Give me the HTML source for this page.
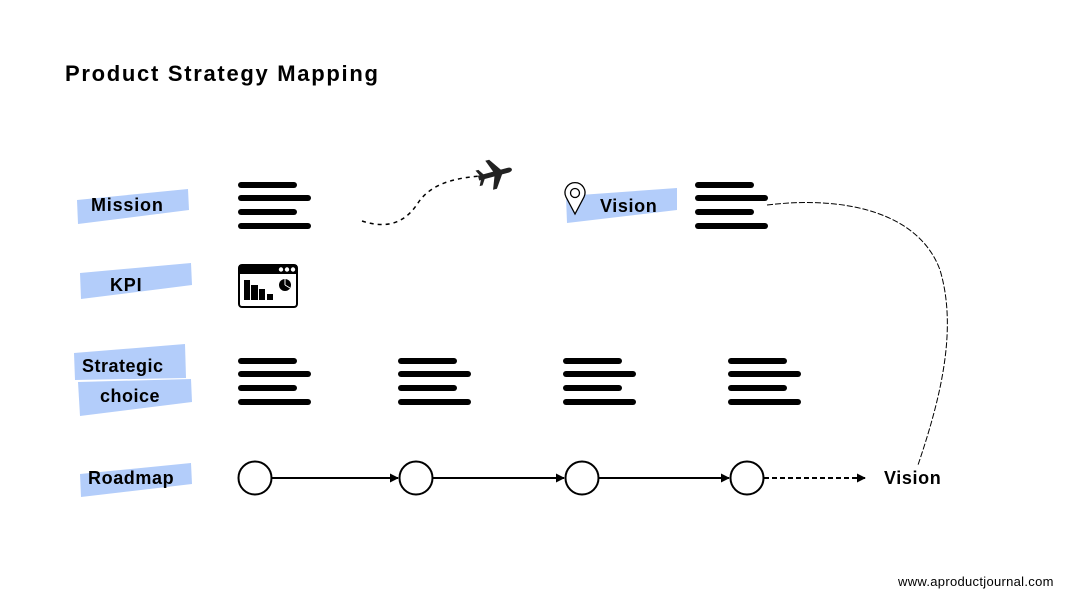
<!DOCTYPE html>
<html><head><meta charset="utf-8"><style>
html,body{margin:0;padding:0;background:#fff;}
svg{display:block}
text{font-family:"Liberation Sans",sans-serif;font-weight:bold;fill:#000}
</style></head><body>
<svg width="1080" height="600" viewBox="0 0 1080 600" xmlns="http://www.w3.org/2000/svg">
<defs>
<marker id="ah" viewBox="0 0 10 10" refX="9" refY="5" markerWidth="4.5" markerHeight="4.5" orient="auto"><path d="M0,0 L10,5 L0,10 z" fill="#000"/></marker>
</defs>
<text x="65" y="81" font-size="22" letter-spacing="1.7">Product Strategy Mapping</text>

<g fill="#b3cdfa">
<polygon points="77,200 188,189 189,210 78,224"/>
<polygon points="80,273 191,263 192,285 81,299"/>
<polygon points="74,353 185,344 186,378 75,380"/>
<polygon points="78,382 191,379 192,402 80,416"/>
<polygon points="80,474 191,463 192,484 81,497"/>
<polygon points="566,196 677,188 677,210 567,223"/>
</g>
<text x="91" y="211" font-size="18" letter-spacing="0.8">Mission</text>
<text x="110" y="291" font-size="18" letter-spacing="0.8">KPI</text>
<text x="82" y="372" font-size="18" letter-spacing="0.5">Strategic</text>
<text x="100" y="402" font-size="18" letter-spacing="0.5">choice</text>
<text x="88" y="484" font-size="18" letter-spacing="0.6">Roadmap</text>
<text x="600" y="212" font-size="18" letter-spacing="0.6">Vision</text>
<text x="884" y="484" font-size="18" letter-spacing="0.6">Vision</text>

<g stroke="#000" stroke-width="6" stroke-linecap="round">
<g><line x1="241" y1="185" x2="294" y2="185"/><line x1="241" y1="198" x2="308" y2="198"/><line x1="241" y1="212" x2="294" y2="212"/><line x1="241" y1="226" x2="308" y2="226"/></g>
<g transform="translate(457,0)"><line x1="241" y1="185" x2="294" y2="185"/><line x1="241" y1="198" x2="308" y2="198"/><line x1="241" y1="212" x2="294" y2="212"/><line x1="241" y1="226" x2="308" y2="226"/></g>
<g transform="translate(0,176)"><line x1="241" y1="185" x2="294" y2="185"/><line x1="241" y1="198" x2="308" y2="198"/><line x1="241" y1="212" x2="294" y2="212"/><line x1="241" y1="226" x2="308" y2="226"/></g>
<g transform="translate(160,176)"><line x1="241" y1="185" x2="294" y2="185"/><line x1="241" y1="198" x2="308" y2="198"/><line x1="241" y1="212" x2="294" y2="212"/><line x1="241" y1="226" x2="308" y2="226"/></g>
<g transform="translate(325,176)"><line x1="241" y1="185" x2="294" y2="185"/><line x1="241" y1="198" x2="308" y2="198"/><line x1="241" y1="212" x2="294" y2="212"/><line x1="241" y1="226" x2="308" y2="226"/></g>
<g transform="translate(490,176)"><line x1="241" y1="185" x2="294" y2="185"/><line x1="241" y1="198" x2="308" y2="198"/><line x1="241" y1="212" x2="294" y2="212"/><line x1="241" y1="226" x2="308" y2="226"/></g>
</g>

<rect x="239" y="265" width="58" height="42" rx="3" fill="#fff" stroke="#000" stroke-width="2"/>
<rect x="239" y="265" width="58" height="9" fill="#000"/>
<g fill="#fff"><circle cx="281" cy="269.5" r="2.2"/><circle cx="287" cy="269.5" r="2.2"/><circle cx="293" cy="269.5" r="2.2"/></g>
<g fill="#000"><rect x="244" y="280" width="6" height="20"/><rect x="251" y="285" width="7" height="15"/><rect x="259" y="289" width="6" height="11"/><rect x="267" y="294" width="6" height="6"/><circle cx="285" cy="285" r="6"/></g>
<path d="M285,285 L285,279 M285,285 L290,288" stroke="#fff" stroke-width="1"/>

<path d="M362,221 C395,232 410,215 418,203 C432,182 458,178 480,176" fill="none" stroke="#000" stroke-width="1.5" stroke-dasharray="4,4"/>
<g transform="translate(494,174) rotate(-15)" fill="#222">
<path d="M-16,-2.5 L14,-2.5 C20,-2.5 20,2.5 14,2.5 L-16,2.5 z"/>
<path d="M0,-2 L-5,-15 L-1,-15 L8,-2 z"/>
<path d="M0,2 L-5,15 L-1,15 L8,2 z"/>
<path d="M-14,-2 L-17,-8 L-14,-8 L-10,-2 z"/>
<path d="M-14,2 L-17,8 L-14,8 L-10,2 z"/>
</g>

<path d="M575,214 L566,197 A10,10 0 1 1 584,197 z" fill="#fff" stroke="#000" stroke-width="1.3"/>
<circle cx="575" cy="193" r="4.5" fill="none" stroke="#000" stroke-width="1.3"/>

<path d="M767,205 C850,195 920,215 940,270 C958,330 940,400 918,465" fill="none" stroke="#000" stroke-width="1" stroke-dasharray="6,2"/>

<g stroke="#000" stroke-width="2" fill="none">
<line x1="272" y1="478" x2="398" y2="478" marker-end="url(#ah)"/>
<line x1="433" y1="478" x2="564" y2="478" marker-end="url(#ah)"/>
<line x1="599" y1="478" x2="729" y2="478" marker-end="url(#ah)"/>
<line x1="764" y1="478" x2="865" y2="478" stroke-dasharray="5,3" marker-end="url(#ah)"/>
<circle cx="255" cy="478" r="16.5" fill="#fff"/>
<circle cx="416" cy="478" r="16.5" fill="#fff"/>
<circle cx="582" cy="478" r="16.5" fill="#fff"/>
<circle cx="747" cy="478" r="16.5" fill="#fff"/>
</g>

<text x="898" y="586" font-size="13" letter-spacing="0.3" style="font-weight:normal">www.aproductjournal.com</text>
</svg>
</body></html>
